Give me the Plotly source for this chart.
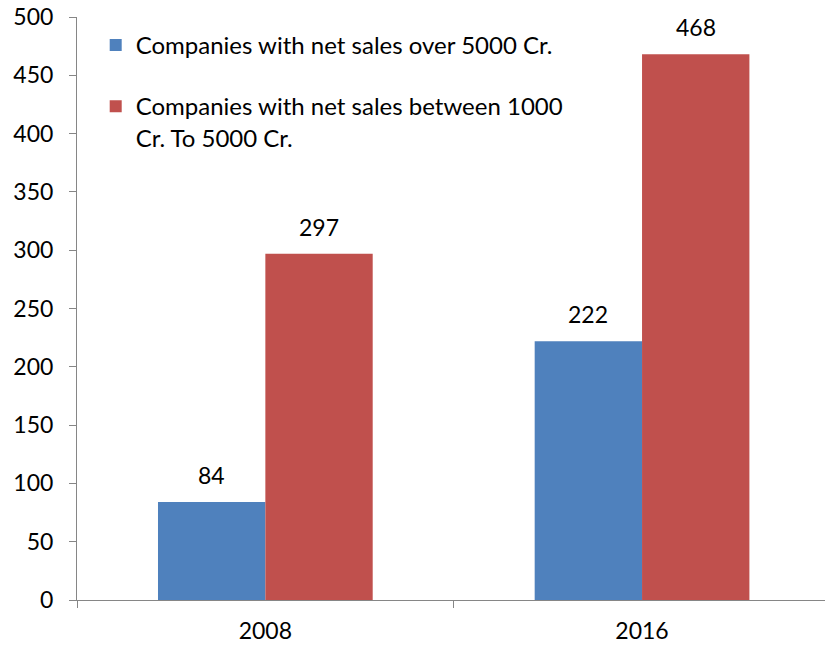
import plotly.graph_objects as go

# data
years = ["2008", "2016"]
over_5000 = [84, 222]
between_1000_5000 = [297, 468]
series_names = [
    "Companies with net sales over 5000 Cr.",
    "Companies with net sales between 1000<br>Cr. To 5000 Cr.",
]
y_ticks = list(range(0, 501, 50))

BLUE = "#4F81BD"
RED = "#C0504D"
AXIS = "#868686"
FONT = "Lato, Calibri, sans-serif"
FS = 24       # legend text
FS_NUM = 23   # tick and value labels
BARGAP = 0.43

fig = go.Figure()

fig.add_trace(go.Bar(
    x=years, y=over_5000, name=series_names[0],
    marker=dict(color=BLUE, line=dict(width=0)),
    legendgroup="a",
))
fig.add_trace(go.Bar(
    x=years, y=between_1000_5000, name=series_names[1],
    marker=dict(color=RED, line=dict(width=0)),
    legendgroup="b",
))

# value labels above each bar
half = (1 - BARGAP) / 4
for i, year in enumerate(years):
    for off, vals in ((-half, over_5000), (half, between_1000_5000)):
        fig.add_annotation(
            x=i + off, y=vals[i], xref="x", yref="y",
            text=str(vals[i]), showarrow=False,
            yanchor="middle", yshift=27,
            font=dict(size=FS_NUM, color="#000000", family=FONT),
        )

fig.update_layout(
    width=825, height=647,
    barmode="group", bargap=BARGAP, bargroupgap=0,
    plot_bgcolor="white", paper_bgcolor="white",
    font=dict(family=FONT, size=FS, color="#000000"),
    margin=dict(l=77, r=0, t=17, b=47, autoexpand=False),
    showlegend=True,
    legend=dict(
        x=0.025, y=0.99, xanchor="left", yanchor="top",
        bgcolor="rgba(0,0,0,0)", valign="top",
        tracegroupgap=27,
        font=dict(size=FS, family=FONT),
    ),
    xaxis=dict(
        type="category", range=[-0.5, 1.4857],
        showline=True, linecolor=AXIS, linewidth=1,
        ticks="outside", tickson="boundaries", ticklen=7, tickcolor=AXIS,
        ticklabelstandoff=10, showgrid=False, zeroline=False,
        automargin=False,
        tickfont=dict(size=FS_NUM, family=FONT),
    ),
    yaxis=dict(
        range=[0, 500], tickvals=y_ticks,
        showline=True, linecolor=AXIS, linewidth=1,
        ticks="outside", ticklen=7, tickcolor=AXIS,
        ticklabelstandoff=11, ticklabeloverflow="allow",
        showgrid=False, zeroline=False,
        automargin=False,
        tickfont=dict(size=FS_NUM, family=FONT),
    ),
)

# drop the default 8px page margin so the figure sits at the window corner
fig.write_html(
    "out.html",
    config={"displayModeBar": False},
    post_script="document.body.style.margin='0';",
)
